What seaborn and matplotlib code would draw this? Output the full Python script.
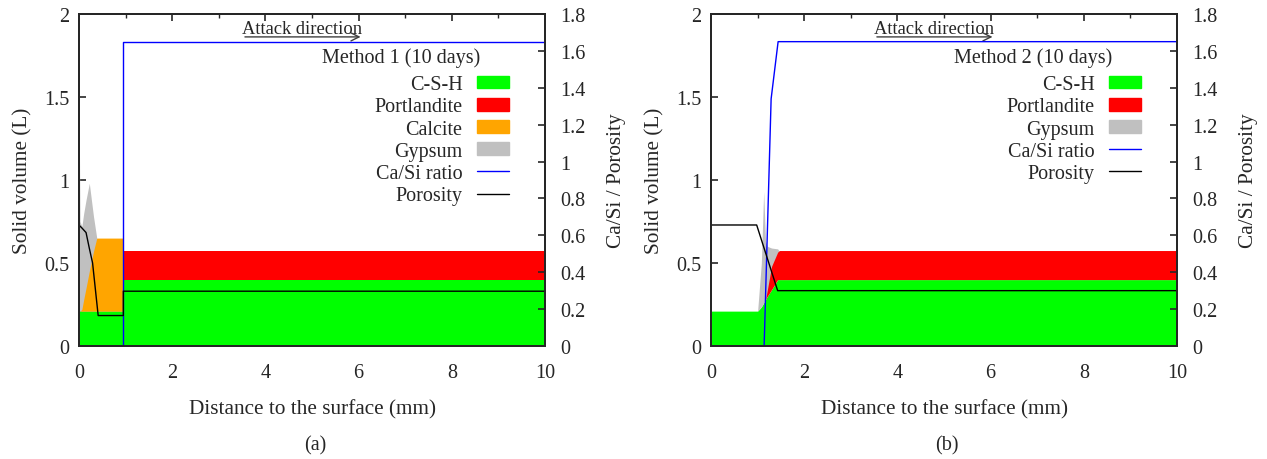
"""
Solid volume profiles after 10 days of sulfate attack (two methods)
"""

import numpy as np
import pandas as pd
import matplotlib
matplotlib.use('Agg')
import matplotlib.pyplot as plt
from matplotlib.patches import Patch
from matplotlib.lines import Line2D
from matplotlib.ticker import MultipleLocator, FormatStrFormatter
import seaborn as sns

# Method 1 - solids (volume of each phase on a common distance grid, mm)
dist1 = [0, 0.02, 0.06, 0.10, 0.15, 0.22, 0.31, 0.38, 0.44, 0.60, 0.80, 0.95, 0.95, 10]
csh1 = [0.21, 0.21, 0.21, 0.21, 0.21, 0.21, 0.21, 0.21, 0.21, 0.21, 0.21, 0.21, 0.40, 0.40]
portlandite1 = [0, 0, 0, 0, 0, 0, 0, 0, 0, 0, 0, 0, 0.175, 0.175]
calcite1 = [0, 0, 0.01, 0.07, 0.14, 0.24, 0.36, 0.44, 0.44, 0.44, 0.44, 0.44, 0, 0]
gypsum1 = [1.27, 0.54, 0.51, 0.59, 0.67, 0.77, 0.57, 0.44, 0.34, 0.24, 0.09, 0, 0, 0]
# Method 1 - Ca/Si and porosity
casi_x1 = [0, 0.95, 0.95, 10]
casi1 = [0, 0, 1.65, 1.65]
poro_x1 = [0, 0.06, 0.15, 0.22, 0.29, 0.41, 0.95, 0.95, 10]
poro1 = [0.655, 0.64, 0.615, 0.53, 0.45, 0.165, 0.165, 0.297, 0.297]

# Method 2 - solids
dist2 = [0, 1.0, 1.08, 1.13, 1.17, 1.21, 1.30, 1.43, 1.47, 10]
csh2 = [0.21, 0.21, 0.235, 0.26, 0.28, 0.30, 0.34, 0.40, 0.40, 0.40]
portlandite2 = [0, 0, 0, 0, 0, 0.04, 0.14, 0.165, 0.175, 0.175]
calcite2 = [0, 0, 0, 0, 0, 0, 0, 0, 0, 0]
gypsum2 = [0, 0, 0.265, 0.67, 0.35, 0.30, 0.25, 0.185, 0.17, 0]
# Method 2 - Ca/Si and porosity
casi_x2 = [0, 1.14, 1.29, 1.44, 10]
casi2 = [0, 0, 1.34, 1.65, 1.65]
poro_x2 = [0, 0.98, 1.43, 10]
poro2 = [0.656, 0.656, 0.30, 0.30]

colors = {'C-S-H': '#00ff00', 'Portlandite': '#ff0000', 'Calcite': '#ffa500',
          'Gypsum': '#c0c0c0', 'Ca/Si ratio': '#0000ff', 'Porosity': 'black'}

sns.set_theme(style='ticks')
plt.rcParams['font.family'] = ['Liberation Serif', 'DejaVu Serif']
plt.rcParams['font.size'] = 14.5
plt.rcParams['axes.linewidth'] = 1.4

FS = 14.5
LABEL_FS = 15.3


def draw_panel(ax, dist, csh, port, calc, gyp, casi_x, casi, poro_x, poro, title, with_calcite):
    dist = np.array(dist)
    csh = np.array(csh)
    ax.fill_between(dist, 0, csh, color=colors['C-S-H'], lw=0)
    ax.fill_between(dist, csh, csh + np.array(gyp), color=colors['Gypsum'], lw=0)
    if with_calcite:
        ax.fill_between(dist, csh, csh + np.array(calc), color=colors['Calcite'], lw=0)
    ax.fill_between(dist, csh, csh + np.array(port), color=colors['Portlandite'], lw=0)

    ax.set_xlim(0, 10)
    ax.set_ylim(0, 2)
    ax.xaxis.set_major_locator(MultipleLocator(2))
    ax.xaxis.set_minor_locator(MultipleLocator(1))
    ax.yaxis.set_major_locator(MultipleLocator(0.5))
    ax.yaxis.set_major_formatter(FormatStrFormatter('%g'))
    ax.tick_params(which='both', direction='in', top=True, right=False, labelsize=FS)
    ax.tick_params(which='major', length=5, width=1.2)
    ax.tick_params(which='minor', length=3, width=1)
    ax.tick_params(axis='x', pad=12.5)
    ax.tick_params(axis='y', pad=7)
    ax.set_xlabel('Distance to the surface (mm)', fontsize=LABEL_FS, labelpad=12)
    ax.set_ylabel('Solid volume (L)', fontsize=LABEL_FS, labelpad=8)

    ax2 = ax.twinx()
    df_casi = pd.DataFrame({'x': casi_x, 'y': casi})
    df_poro = pd.DataFrame({'x': poro_x, 'y': poro})
    sns.lineplot(data=df_casi, x='x', y='y', ax=ax2, color=colors['Ca/Si ratio'],
                 lw=1, estimator=None, sort=False, legend=False)
    sns.lineplot(data=df_poro, x='x', y='y', ax=ax2, color=colors['Porosity'],
                 lw=1, estimator=None, sort=False, legend=False)
    ax2.set_ylim(0, 1.8)
    ax2.set_xlim(0, 10)
    ax2.yaxis.set_major_locator(MultipleLocator(0.2))
    ax2.yaxis.set_major_formatter(FormatStrFormatter('%g'))
    ax2.tick_params(axis='y', direction='in', length=5, width=1.2, pad=11, labelsize=FS)
    ax2.set_xlabel('')
    ax2.set_ylabel('Ca/Si / Porosity', fontsize=LABEL_FS, labelpad=15)

    # attack direction arrow
    ax.annotate('', xy=(6.1, 1.862), xytext=(3.5, 1.862),
                arrowprops=dict(arrowstyle='->', lw=1, color='0.25'))
    ax.text(3.5, 1.885, 'Attack direction', fontsize=13.3, ha='left', va='baseline')

    handles = [Patch(color=colors['C-S-H'], label='C-S-H'),
               Patch(color=colors['Portlandite'], label='Portlandite')]
    if with_calcite:
        handles.append(Patch(color=colors['Calcite'], label='Calcite'))
    handles += [Patch(color=colors['Gypsum'], label='Gypsum'),
                Line2D([], [], color=colors['Ca/Si ratio'], lw=1, label='Ca/Si ratio'),
                Line2D([], [], color=colors['Porosity'], lw=1, label='Porosity')]
    ax2.text(0.861, 0.87, title, transform=ax2.transAxes, ha='right', va='center', fontsize=FS)
    ax2.legend(handles=handles, loc='upper right', bbox_to_anchor=(0.944, 0.846),
               frameon=False, markerfirst=False, borderpad=0, labelspacing=0.16,
               handlelength=1.6, handleheight=0.58, handletextpad=0.7, fontsize=FS)
    return ax2


fig, axes = plt.subplots(1, 2, figsize=(12.67, 4.6), dpi=100)
fig.subplots_adjust(left=0.0624, right=0.929, bottom=0.2457, top=0.9674, wspace=0.356)

draw_panel(axes[0], dist1, csh1, portlandite1, calcite1, gypsum1,
           casi_x1, casi1, poro_x1, poro1, 'Method 1 (10 days)', True)
draw_panel(axes[1], dist2, csh2, portlandite2, calcite2, gypsum2,
           casi_x2, casi2, poro_x2, poro2, 'Method 2 (10 days)', False)

fig.text(0.2486, 0.03, '(a)', ha='center', va='center', fontsize=FS)
fig.text(0.7474, 0.03, '(b)', ha='center', va='center', fontsize=FS)

plt.savefig('out.png', dpi=100)
